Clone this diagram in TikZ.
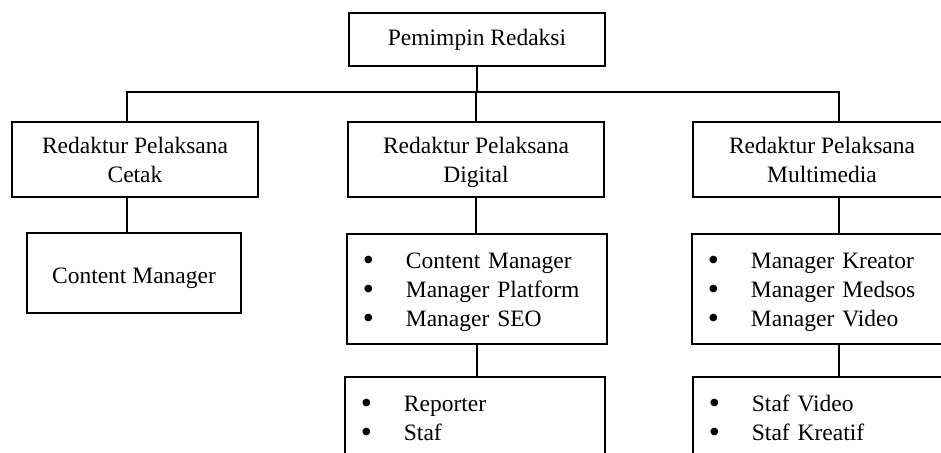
\documentclass[tikz,border=0pt]{standalone}
\usepackage{fontspec}
\usepackage{graphicx}
\setmainfont{Liberation Serif}
\newcommand{\itm}[1]{\makebox[43pt][l]{\raisebox{-2pt}{\scalebox{1.35}{\textbullet}}}#1}
\newcommand{\nodp}[1]{\raisebox{0pt}[\height][0pt]{#1}}
\begin{document}
\begin{tikzpicture}[x=1pt,y=-1pt, line width=1.8pt,
        every node/.style={font=\fontsize{23.5}{29}\selectfont},
        box/.style={draw, align=center, inner sep=0pt},
        lst/.style={draw, align=left, inner xsep=16pt, inner ysep=0pt, text width=228pt, text height=35pt, text depth=75pt}]
    \useasboundingbox (0,0) rectangle (941,452);
    \clip (0,0) rectangle (941,452);
    \node[box, minimum width=256pt, minimum height=53pt] (pr) at (477,39.5) {Pemimpin Redaksi};
    \node[box, minimum width=246pt, minimum height=75pt] (cetak) at (135,159.5) {Redaktur Pelaksana\\Cetak};
    \node[box, minimum width=256pt, minimum height=75pt] (digital) at (476,159.5) {Redaktur Pelaksana\\\nodp{Digital}};
    \node[box, minimum width=258pt, minimum height=75pt] (multi) at (822,159.5) {Redaktur Pelaksana\\Multimedia};
    \node[box, minimum width=214pt, minimum height=80pt, text height=25pt, text depth=5pt] (cm) at (134,273) {Content Manager};
    \node[lst, anchor=north west] (dlist) at (346,233) {\itm{Content Manager}\\\itm{Manager Platform}\\\itm{Manager SEO}};
    \node[lst, anchor=north west] (mlist) at (691,233) {\itm{Manager Kreator}\\\itm{Manager Medsos}\\\itm{Manager Video}};
    \node[lst, anchor=north west] (dstaf) at (344,376) {\itm{Reporter}\\\itm{Staf}};
    \node[lst, anchor=north west] (mstaf) at (692,376) {\itm{Staf Video}\\\itm{Staf Kreatif}};
    % garis penghubung
    \coordinate (tl) at (127,92);
    \coordinate (tr) at (839,92);
    \draw (tl |- cetak.north) -- (tl) -- (tr) -- (tr |- multi.north);
    \draw (pr.south) -- (pr.south |- tl);
    \draw (digital.north) -- (digital.north |- tl);
    \draw (tl |- cetak.south) -- (tl |- cm.north);
    \draw (digital.south) -- (digital.south |- dlist.north);
    \draw (dlist.south) -- (dlist.south |- dstaf.north);
    \draw (tr |- multi.south) -- (tr |- mlist.north);
    \draw (tr |- mlist.south) -- (tr |- mstaf.north);
\end{tikzpicture}
\end{document}
